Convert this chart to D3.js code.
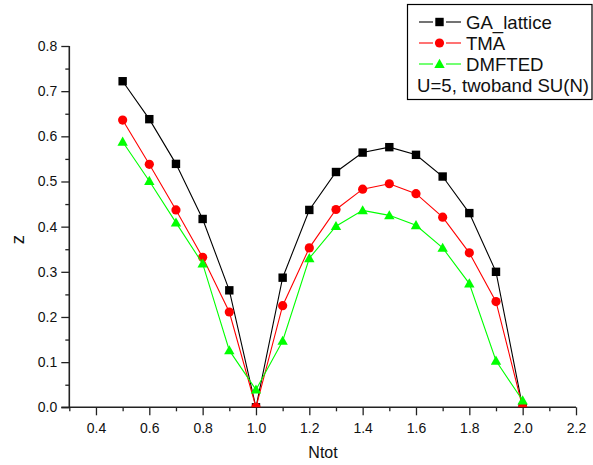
<!DOCTYPE html>
<html>
<head>
<meta charset="utf-8">
<script src="https://cdn.jsdelivr.net/npm/d3@7"></script>
<style>
  html, body { margin: 0; padding: 0; background: #fff; }
  svg { display: block; font-family: "Liberation Sans", Arial, sans-serif; }
</style>
</head>
<body>
<svg id="chart" width="593" height="465"></svg>
<script>
const ntot = [0.5, 0.6, 0.7, 0.8, 0.9, 1.0, 1.1, 1.2, 1.3, 1.4, 1.5, 1.6, 1.7, 1.8, 1.9, 2.0];
const gaLattice = [0.722, 0.638, 0.539, 0.417, 0.259, 0.0, 0.287, 0.437, 0.521, 0.564, 0.576, 0.559, 0.511, 0.430, 0.300, 0.0];
const tma = [0.636, 0.538, 0.437, 0.332, 0.211, 0.0, 0.225, 0.353, 0.438, 0.483, 0.495, 0.473, 0.421, 0.342, 0.234, 0.0];
const dmfted = [0.588, 0.501, 0.409, 0.318, 0.126, 0.039, 0.147, 0.330, 0.401, 0.436, 0.425, 0.403, 0.353, 0.274, 0.103, 0.015];
const xTickValues = [0.4, 0.6, 0.8, 1.0, 1.2, 1.4, 1.6, 1.8, 2.0, 2.2];
const xMinorValues = [0.3, 0.5, 0.7, 0.9, 1.1, 1.3, 1.5, 1.7, 1.9, 2.1];
const yTickValues = [0.0, 0.1, 0.2, 0.3, 0.4, 0.5, 0.6, 0.7, 0.8];
const yMinorValues = [0.05, 0.15, 0.25, 0.35, 0.45, 0.55, 0.65, 0.75];
const seriesNames = ["GA_lattice", "TMA", "DMFTED"];
const noteText = "U=5, twoband SU(N)";
const xTitle = "Ntot";
const yTitle = "z";

const series = [
  { name: seriesNames[0], values: gaLattice, color: "#000000", shape: "square" },
  { name: seriesNames[1], values: tma, color: "#ff0000", shape: "circle" },
  { name: seriesNames[2], values: dmfted, color: "#00ff00", shape: "triangle" }
];

const svg = d3.select("#chart");
const pLeft = 69.3, pRight = 576, pTop = 46, pBottom = 407.3;
const x = d3.scaleLinear().domain([0.3, 2.2]).range([pLeft, pRight]);
const y = d3.scaleLinear().domain([0, 0.8]).range([pBottom, pTop]);

svg.append("defs").append("clipPath").attr("id", "plotclip")
  .append("rect").attr("x", pLeft).attr("y", 0).attr("width", pRight - pLeft + 10).attr("height", pBottom);

const axisColor = "#222";
const xAxis = svg.append("g").attr("transform", `translate(0,${pBottom})`)
  .call(d3.axisBottom(x).tickValues(xTickValues).tickSize(8).tickPadding(8).tickFormat(d3.format(".1f")));
const xMinor = svg.append("g").attr("transform", `translate(0,${pBottom})`)
  .call(d3.axisBottom(x).tickValues(xMinorValues).tickSize(4).tickFormat(""));
const yAxis = svg.append("g").attr("transform", `translate(${pLeft},0)`)
  .call(d3.axisLeft(y).tickValues(yTickValues).tickSize(8).tickPadding(4).tickFormat(d3.format(".1f")));
const yMinor = svg.append("g").attr("transform", `translate(${pLeft},0)`)
  .call(d3.axisLeft(y).tickValues(yMinorValues).tickSize(4).tickFormat(""));

[xAxis, xMinor, yAxis, yMinor].forEach(g => {
  g.select(".domain").attr("stroke", axisColor).attr("stroke-width", 1.6);
  g.selectAll(".tick line").attr("stroke", axisColor).attr("stroke-width", 1.3);
  g.selectAll(".tick text").attr("fill", "#111").style("font-size", "14px").style("font-family", "'Liberation Sans', Arial, sans-serif");
});
xMinor.select(".domain").remove();
yMinor.select(".domain").remove();
xAxis.select(".domain").attr("d", `M${pLeft - 8},0H${pRight}`);
yAxis.select(".domain").attr("d", `M0,${pBottom}V${pTop}`);

svg.append("text").attr("x", 323).attr("y", 458).attr("text-anchor", "middle")
  .style("font-size", "16px").attr("fill", "#111").text(xTitle);
svg.append("text").attr("transform", `translate(23.5,239.5) rotate(-90)`)
  .attr("text-anchor", "middle").style("font-size", "18.5px").attr("fill", "#111").text(yTitle);

function drawMarker(g, shape, cx, cy, color) {
  if (shape === "square") {
    g.append("rect").attr("x", cx - 4.2).attr("y", cy - 4.2).attr("width", 8.4).attr("height", 8.4).attr("fill", color);
  } else if (shape === "circle") {
    g.append("circle").attr("cx", cx).attr("cy", cy).attr("r", 4.6).attr("fill", color);
  } else {
    const s = 5.2;
    g.append("path").attr("d", `M${cx},${cy - s}L${cx + s},${cy + s * 0.75}L${cx - s},${cy + s * 0.75}Z`).attr("fill", color);
  }
}

const plot = svg.append("g").attr("clip-path", "url(#plotclip)");
const line = d3.line().x(d => x(d[0])).y(d => y(d[1]));
series.forEach(s => {
  const pts = ntot.map((n, i) => [n, s.values[i]]);
  const g = plot.append("g");
  g.append("path").datum(pts).attr("d", line).attr("fill", "none").attr("stroke", s.color).attr("stroke-width", 1.1);
  pts.forEach(p => drawMarker(g, s.shape, x(p[0]), y(p[1]), s.color));
});

const lg = svg.append("g");
lg.append("rect").attr("x", 407.5).attr("y", 4.5).attr("width", 184.5).attr("height", 95)
  .attr("fill", "#fff").attr("stroke", "#000").attr("stroke-width", 1.2);
const rowsY = [22, 43, 64];
series.forEach((s, i) => {
  const cy = rowsY[i];
  lg.append("line").attr("x1", 419).attr("x2", 433).attr("y1", cy).attr("y2", cy).attr("stroke", s.color).attr("stroke-width", 1.1);
  lg.append("line").attr("x1", 446).attr("x2", 461).attr("y1", cy).attr("y2", cy).attr("stroke", s.color).attr("stroke-width", 1.1);
  drawMarker(lg, s.shape, 439.5, cy, s.color);
  lg.append("text").attr("x", 466).attr("y", cy + 6.5).style("font-size", "18.6px").attr("fill", "#111").text(s.name);
});
lg.append("text").attr("x", 417).attr("y", 91.5).style("font-size", "18.6px").attr("fill", "#111").text(noteText);
</script>
</body>
</html>
